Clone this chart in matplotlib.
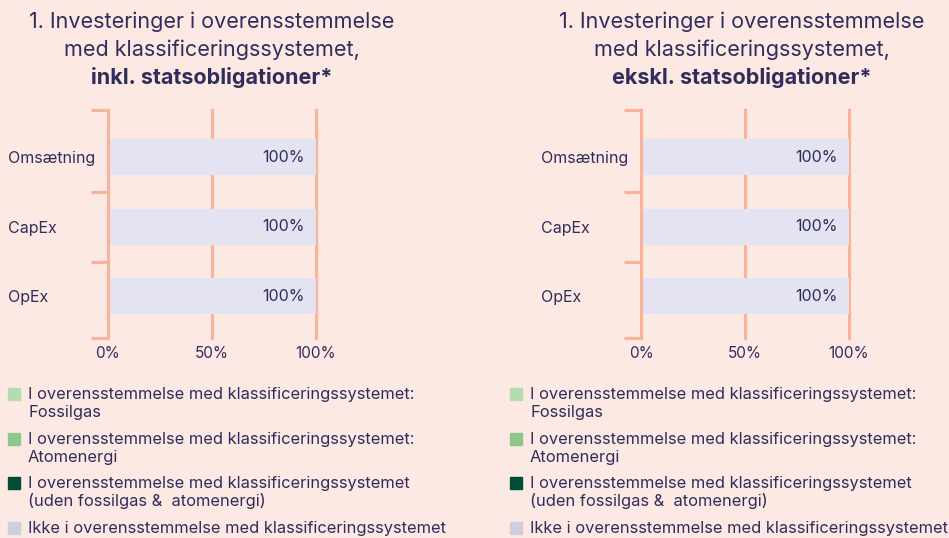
import matplotlib.pyplot as plt
from matplotlib.patches import Rectangle

# data
categories = ["Omsætning", "CapEx", "OpEx"]
series_labels = [
    "I overensstemmelse med klassificeringssystemet:\nFossilgas",
    "I overensstemmelse med klassificeringssystemet:\nAtomenergi",
    "I overensstemmelse med klassificeringssystemet\n(uden fossilgas &  atomenergi)",
    "Ikke i overensstemmelse med klassificeringssystemet",
]
series_colors = ["#b5dbb1", "#8fc78a", "#004d36", "#cdcfdd"]
bar_colors = ["#b5dbb1", "#8fc78a", "#004d36", "#e4e3f2"]
incl_values = [[0, 0, 0], [0, 0, 0], [0, 0, 0], [100, 100, 100]]
excl_values = [[0, 0, 0], [0, 0, 0], [0, 0, 0], [100, 100, 100]]
panel_titles = [
    ["1. Investeringer i overensstemmelse", "med klassificeringssystemet,", "inkl. statsobligationer*"],
    ["1. Investeringer i overensstemmelse", "med klassificeringssystemet,", "ekskl. statsobligationer*"],
]
x_ticks = [0, 50, 100]
x_ticklabels = ["0%", "50%", "100%"]

BG = "#fde9e3"
LINE = "#f7b49b"
NAVY = "#302d5c"
FONT = "Inter"

W, H = 949, 538
fig = plt.figure(figsize=(W / 100, H / 100), dpi=100, facecolor=BG)


def fx(x):
    return x / W


def fy(y):
    return 1 - y / H


def draw_panel(x0, values, title, title_cx, legend_x):
    ax = fig.add_axes([fx(x0), fy(338), 208 / W, 228 / H])
    ax.set_facecolor("none")
    ypos = range(len(categories))
    left = [0] * len(categories)
    for vals, col in zip(values, bar_colors):
        ax.barh(ypos, vals, left=left, height=0.52, color=col, zorder=2)
        for i, v in enumerate(vals):
            if v > 0:
                ax.annotate(f"{v:.0f}%", (left[i] + v, i), xytext=(-8.5, 0),
                            textcoords="offset points", ha="right", va="center",
                            color=NAVY, fontsize=11.5, family=FONT, zorder=3)
        left = [a + b for a, b in zip(left, vals)]
    ax.set_xlim(0, 100)
    ax.set_ylim(2.6, -0.68)
    for g in x_ticks[1:]:
        ax.axvline(g, color=LINE, lw=2.3, zorder=1, clip_on=False)
    for s in ["top", "right", "bottom"]:
        ax.spines[s].set_visible(False)
    ax.spines["left"].set_color(LINE)
    ax.spines["left"].set_linewidth(2.3)
    ax.set_xticks(x_ticks, x_ticklabels)
    ax.tick_params(axis="x", length=0, pad=6, labelsize=11, labelcolor=NAVY)
    ax.set_yticks(list(ypos), categories)
    ax.tick_params(axis="y", which="major", length=0, pad=72, labelsize=11.5, labelcolor=NAVY)
    for lab in ax.get_yticklabels() + ax.get_xticklabels():
        lab.set_family(FONT)
    for lab in ax.get_yticklabels():
        lab.set_horizontalalignment("left")
    ax.set_yticks([-0.68, 0.5, 1.5, 2.6], minor=True)
    ax.tick_params(axis="y", which="minor", length=12, width=2.3, color=LINE)

    # title, one line at a time
    for k, line in enumerate(title):
        fig.text(fx(title_cx), fy(28 + 28 * k), line, ha="center", va="baseline",
                 fontsize=15.5, color=NAVY, family=FONT,
                 fontweight="bold" if k == len(title) - 1 else "normal")

    # legend
    base = 399
    for lab, col in zip(series_labels, series_colors):
        fig.patches.append(Rectangle((fx(legend_x), fy(base + 1)), 12 / W, 12 / H,
                                     transform=fig.transFigure, color=col, figure=fig))
        for j, line in enumerate(lab.split("\n")):
            fig.text(fx(legend_x + 20), fy(base + 18 * j), line, ha="left", va="baseline",
                     fontsize=11.85, color=NAVY, family=FONT)
        base += 44.7


draw_panel(108, incl_values, panel_titles[0], 212, 8)
draw_panel(641, excl_values, panel_titles[1], 742, 510)

fig.savefig("out.png", dpi=100, facecolor=BG)
